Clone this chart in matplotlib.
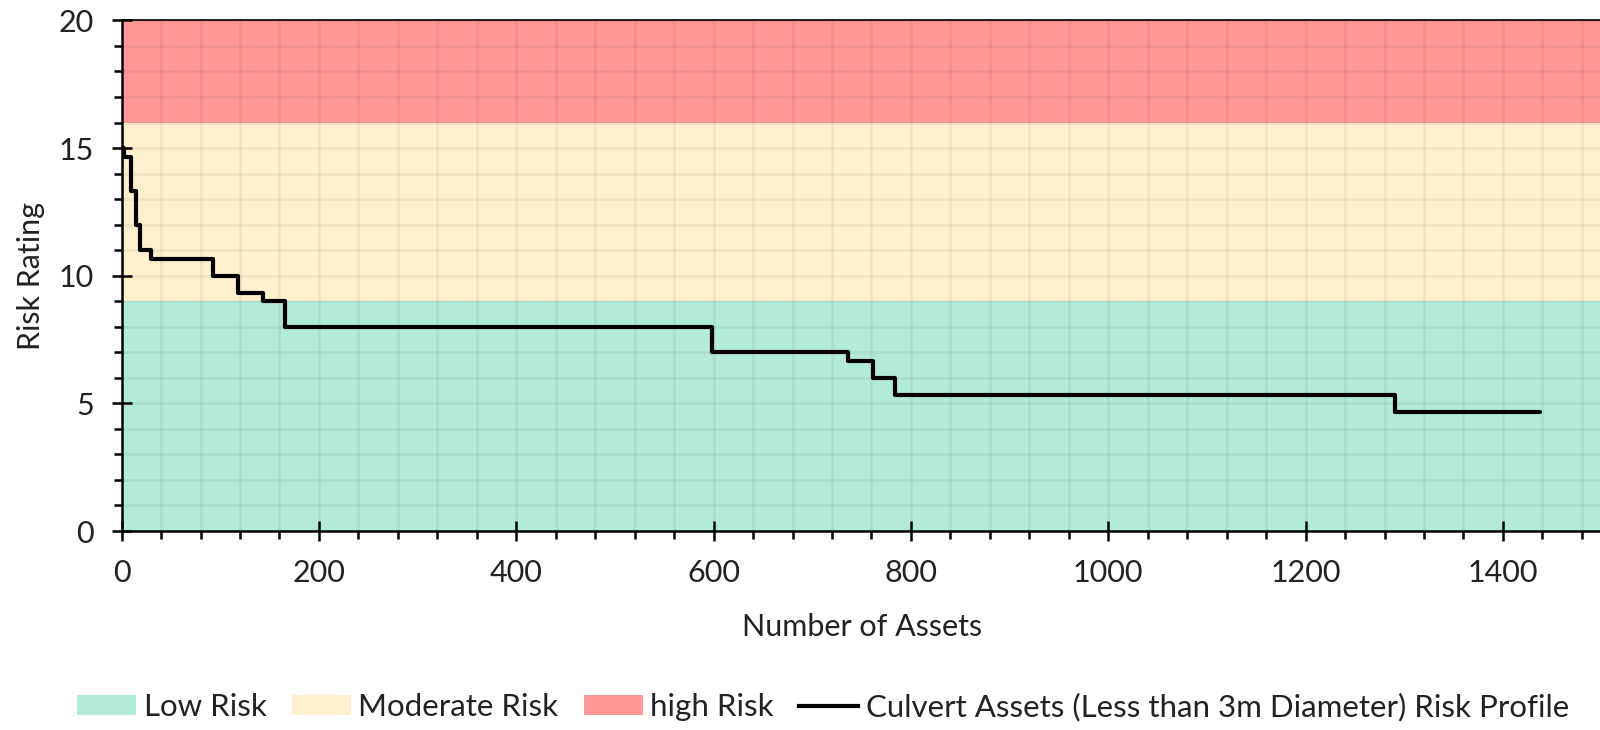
import numpy as np
import matplotlib
matplotlib.use('Agg')
import matplotlib.pyplot as plt
from matplotlib.patches import Patch
from matplotlib.lines import Line2D
from matplotlib.ticker import MultipleLocator

plt.rcParams['font.family'] = ['Lato', 'DejaVu Sans']

# risk bands (lower, upper)
band_names = ['Low Risk', 'Moderate Risk', 'high Risk']
band_lower = [0, 9, 16]
band_upper = [9, 16, 20]
band_colors = ['#b3ebdb', '#fff0cd', '#ff9797']

# culvert risk profile (step changes)
assets = [0, 2, 10, 15, 19, 30, 93, 118, 143, 166, 598, 736, 762, 784, 1291, 1438]
rating = [15, 14.67, 13.33, 12, 11, 10.67, 10, 9.33, 9, 8, 7, 6.67, 6, 5.33, 4.67, 4.67]
line_label = 'Culvert Assets (Less than 3m Diameter) Risk Profile'

fig = plt.figure(figsize=(16, 7.3), dpi=100)
ax = fig.add_axes([0.076, 0.2726, 0.925, 0.6994])

for lo, hi, c in zip(band_lower, band_upper, band_colors):
    ax.axhspan(lo, hi, color=c, zorder=0, lw=0)

ax.plot(assets, rating, drawstyle='steps-post', color='black', lw=3.0,
        zorder=3, solid_capstyle='round')

ax.set_xlim(0, 1500)
ax.set_ylim(0, 20)
ax.xaxis.set_major_locator(MultipleLocator(200))
ax.xaxis.set_minor_locator(MultipleLocator(40))
ax.yaxis.set_major_locator(MultipleLocator(5))
ax.yaxis.set_minor_locator(MultipleLocator(1))

ax.set_axisbelow(True)
ax.grid(which='both', color='black', alpha=0.05, lw=2.2)

ax.spines['right'].set_visible(False)
ax.spines['top'].set_linewidth(1.2)
for s in ['left', 'bottom']:
    ax.spines[s].set_linewidth(1.8)

ax.tick_params(which='major', direction='inout', length=14, width=1.8,
               labelsize=22, colors='black', pad=13)
ax.tick_params(which='minor', direction='out', length=6, width=1.8)
for lab in ax.get_xticklabels() + ax.get_yticklabels():
    lab.set_color('#222222')

ax.set_xlabel('Number of Assets', fontsize=22, labelpad=19, color='#222222')
ax.set_ylabel('Risk Rating', fontsize=22, labelpad=10, color='#222222')

handles = [Patch(facecolor=c, edgecolor='none') for c in band_colors]
handles.append(Line2D([0], [0], color='black', lw=3.0))
leg = fig.legend(handles, band_names + [line_label], loc='center',
                 bbox_to_anchor=(0.5144, 0.032), ncol=4, frameon=False,
                 fontsize=22.5, handlelength=1.9, handleheight=0.6,
                 columnspacing=0.8, handletextpad=0.24)
for t in leg.get_texts():
    t.set_color('#222222')

fig.savefig('out.png', dpi=100)
